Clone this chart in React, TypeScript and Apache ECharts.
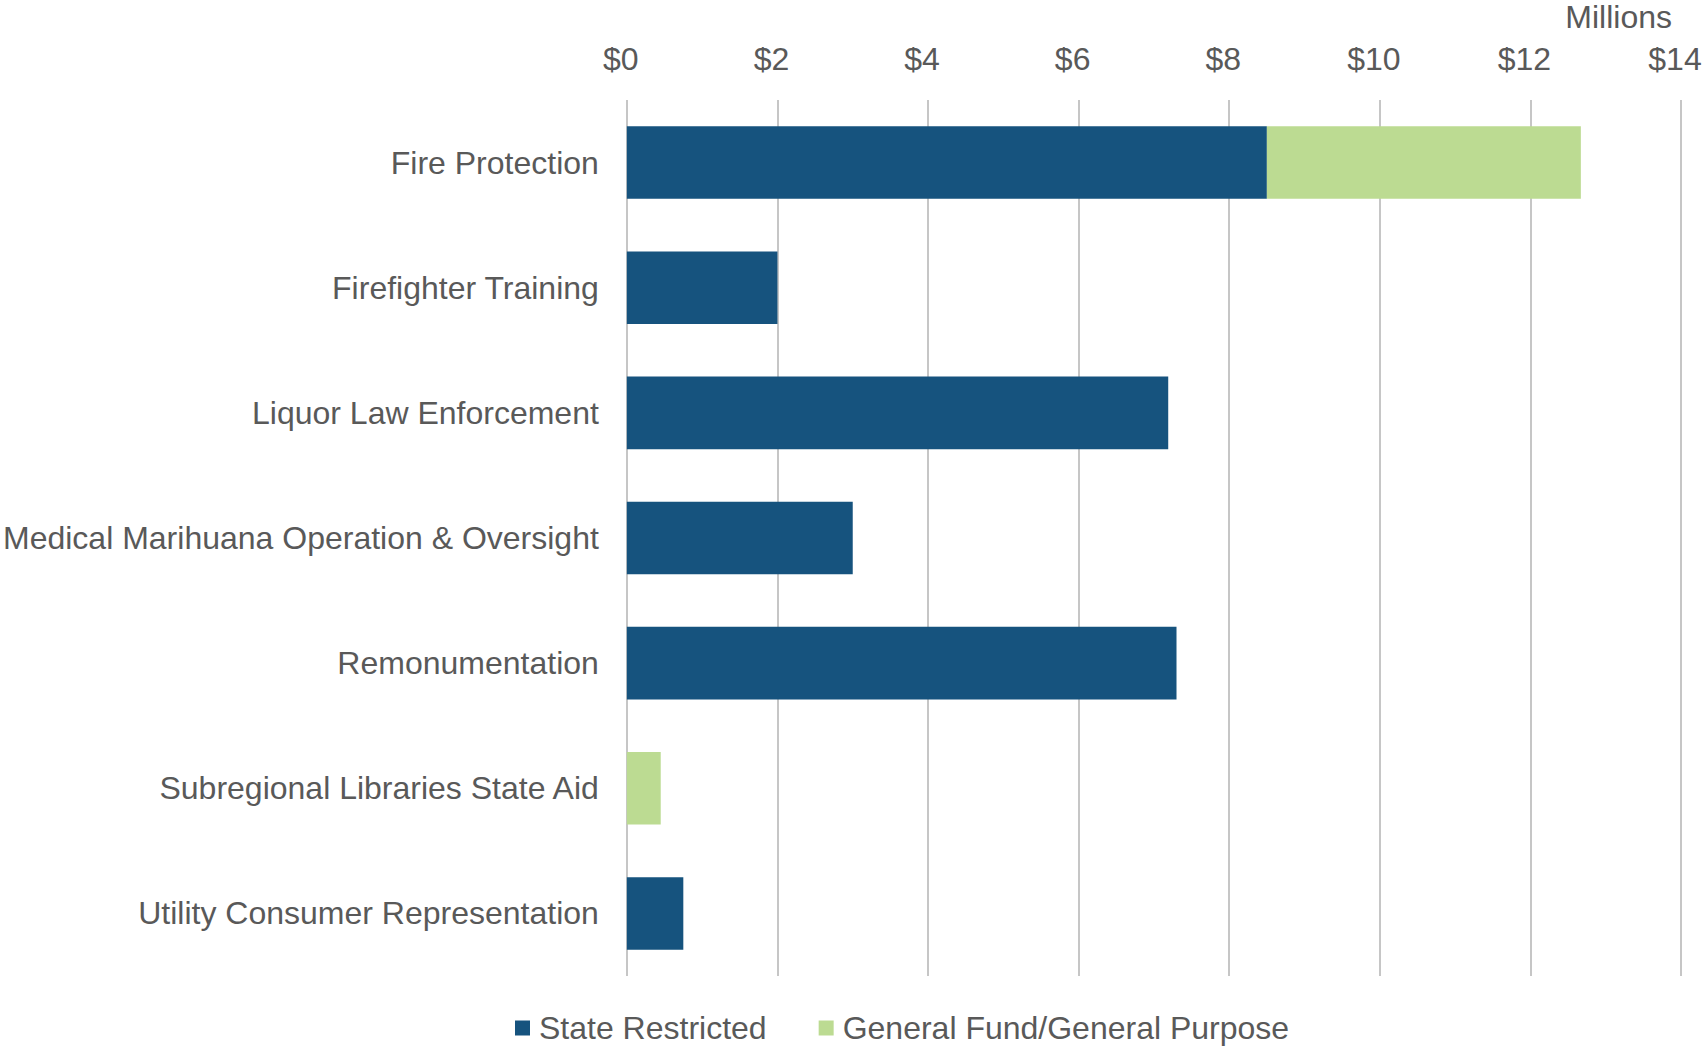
import React, { useEffect, useRef } from "react";
import * as echarts from "echarts";

const categories = [
  "Fire Protection",
  "Firefighter Training",
  "Liquor Law Enforcement",
  "Medical Marihuana Operation & Oversight",
  "Remonumentation",
  "Subregional Libraries State Aid",
  "Utility Consumer Representation",
];
const stateRestricted = [8.5, 2.0, 7.19, 3.0, 7.3, 0, 0.75];
const generalFund = [4.17, 0, 0, 0, 0, 0.45, 0];
const seriesNames = ["State Restricted", "General Fund/General Purpose"];
const tickMax = 14;
const tickStep = 2;

const FONT = "'Liberation Sans', Arial, sans-serif";
const TEXT = "#595959";
const FS = 32;

export default function App() {
  const ref = useRef<HTMLDivElement>(null);
  useEffect(() => {
    if (!ref.current) return;
    document.body.style.margin = "0";
    const chart = echarts.init(ref.current, undefined, { renderer: "svg" });
    chart.setOption({
      animation: false,
      backgroundColor: "#ffffff",
      textStyle: { fontFamily: FONT },
      grid: { left: 621.5, right: 25, top: 100, bottom: 72, containLabel: false },
      graphic: [
        {
          type: "text",
          right: 34,
          top: 1,
          style: { text: "Millions", fontSize: FS, fontFamily: FONT, fill: TEXT },
        },
      ],
      legend: {
        left: 510,
        top: 1007,
        itemWidth: 15,
        itemHeight: 15,
        itemGap: 52,
        icon: "rect",
        textStyle: { fontSize: FS, lineHeight: 32, color: TEXT, fontFamily: FONT, padding: [0, 0, 0, 4] },
        data: seriesNames,
      },
      xAxis: {
        type: "value",
        position: "top",
        min: 0,
        max: tickMax,
        interval: tickStep,
        axisLine: { show: false },
        axisTick: { show: false },
        axisLabel: {
          margin: 25,
          fontSize: FS,
          color: TEXT,
          fontFamily: FONT,
          padding: [0, 12, 0, 0],
          formatter: (v: number) => "$" + v,
        },
        splitLine: { show: true, lineStyle: { color: "#c6c6c6", width: 2 } },
      },
      yAxis: {
        type: "category",
        inverse: true,
        data: categories,
        axisLine: { show: false },
        axisTick: { show: false },
        axisLabel: { margin: 28, fontSize: FS, color: TEXT, fontFamily: FONT },
      },
      series: [
        {
          name: seriesNames[0],
          type: "bar",
          stack: "total",
          barCategoryGap: "42%",
          data: stateRestricted,
          itemStyle: { color: "#16537E" },
        },
        {
          name: seriesNames[1],
          type: "bar",
          stack: "total",
          barCategoryGap: "42%",
          data: generalFund,
          itemStyle: { color: "#BCDB92" },
        },
      ],
    });
    return () => chart.dispose();
  }, []);
  return <div ref={ref} style={{ width: 1706, height: 1048 }} />;
}
